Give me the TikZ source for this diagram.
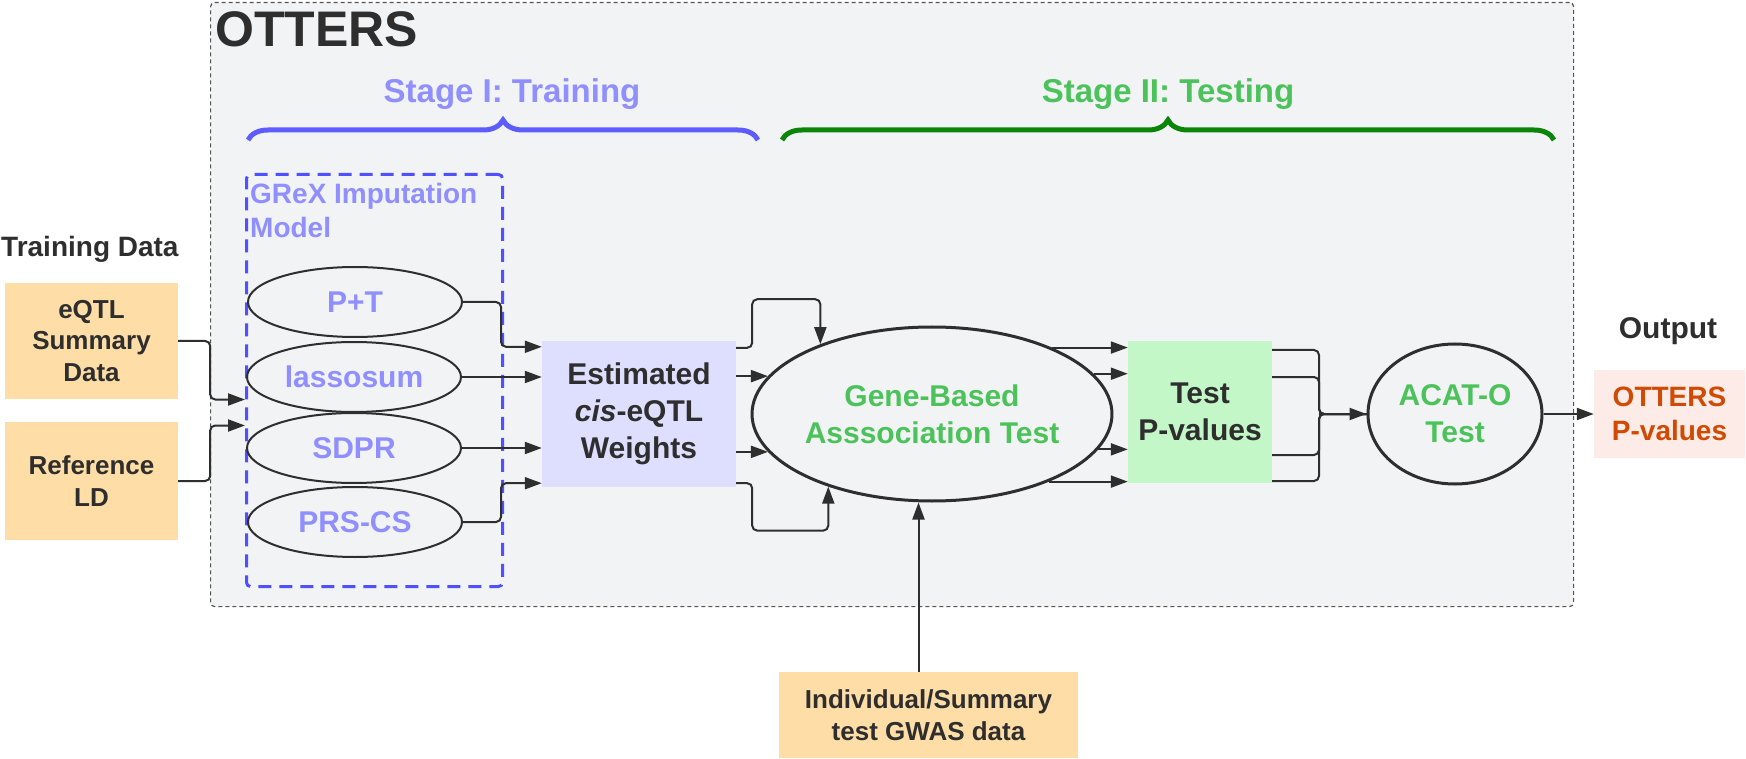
\documentclass[tikz,border=0pt]{standalone}
\usepackage{fontspec}
\setmainfont{Liberation Sans}
\usepackage{tikz}
\usetikzlibrary{shapes,arrows.meta,calc,positioning,decorations.pathreplacing}

\definecolor{bggray}{HTML}{F2F3F5}
\definecolor{edgegray}{HTML}{555555}
\definecolor{txtdark}{HTML}{2E2E2E}
\definecolor{purptxt}{HTML}{8F8FFF}
\definecolor{bluebrace}{HTML}{5C5CFF}
\definecolor{grexblue}{HTML}{5050FF}
\definecolor{greentxt}{HTML}{4CC25A}
\definecolor{greenbrace}{HTML}{0A850A}
\definecolor{orangefill}{HTML}{FEDDA6}
\definecolor{lavfill}{HTML}{DEDEFF}
\definecolor{pvfill}{HTML}{C3F7C8}
\definecolor{pinkfill}{HTML}{FDEBE8}
\definecolor{outtxt}{HTML}{D04A02}

\begin{document}
\begin{tikzpicture}[x=1pt, y=-1pt, inner sep=0pt,
        every node/.append style={text=txtdark},
        conn/.style={draw=txtdark, line width=2pt, rounded corners=5pt, -{Triangle[length=17pt,width=12pt]}},
        link/.style={draw=txtdark, line width=2pt, rounded corners=5pt}]
      \tikzstyle{databox} = [fill=orangefill, align=center, font=\bfseries\fontsize{26}{31.5}\selectfont]
      \tikzstyle{model} = [ellipse, draw=txtdark, line width=2pt, minimum width=214pt, minimum height=70pt,
                           text=purptxt, font=\bfseries\fontsize{30}{36}\selectfont]
      \tikzstyle{bigoval} = [ellipse, draw=txtdark, line width=3pt, align=center, text=greentxt,
                             font=\bfseries\fontsize{30}{37}\selectfont]
      \tikzstyle{midbox} = [align=center, font=\bfseries\fontsize{30}{37}\selectfont]
      \useasboundingbox (0,0) rectangle (1746,759);
      \node (otters) [draw=edgegray, fill=bggray, line width=1.2pt, dash pattern=on 4pt off 3pt, rounded corners=4pt,
                      minimum width=1363pt, minimum height=604pt, anchor=north west] at (210,2) {};
      \node (title) [anchor=base west, font=\bfseries\fontsize{50}{50}\selectfont] at (215,47) {OTTERS};
      \node (stagei) [anchor=base, text=purptxt, font=\bfseries\fontsize{33}{33}\selectfont] at (512,103) {Stage I: Training};
      \node (stageii) [anchor=base, text=greentxt, font=\bfseries\fontsize{33}{33}\selectfont] at (1168,103) {Stage II: Testing};
      \draw[decorate, decoration={brace, amplitude=20pt}, draw=bluebrace, line width=5pt] (248,140) -- (758,140);
      \draw[decorate, decoration={brace, amplitude=20pt}, draw=greenbrace, line width=5pt] (782,140) -- (1554,140);
      \node (grex) [draw=grexblue, line width=3pt, dash pattern=on 13pt off 8pt, rounded corners=4pt,
                    minimum width=256pt, minimum height=412pt, anchor=north west] at (245,173) {};
      \node (grexlbl) [anchor=west, align=left, text=purptxt, font=\bfseries\fontsize{28}{34}\selectfont] at (250,210) {GReX Imputation\\Model};
      \node (trainlbl) [anchor=base west, font=\bfseries\fontsize{28}{28}\selectfont] at (1,257) {Training Data};
      \node (eqtl) [databox, minimum width=173pt, minimum height=116pt] at (91.5,341) {eQTL\\Summary\\Data};
      \node (refld) [databox, minimum width=173pt, minimum height=118pt] at (91.5,481) {Reference\\LD};
      \node (pt) [model] at (355,302) {P+T};
      \node (las) [model] at (354,377) {lassosum};
      \node (sdpr) [model] at (354,448) {SDPR};
      \node (prs) [model] at (355,522) {PRS-CS};
      \node (est) [midbox, fill=lavfill, minimum width=194pt, minimum height=146pt] at (639,414) {Estimated\\\textit{cis}-eQTL\\Weights};
      \node (gene) [bigoval, minimum width=326pt, minimum height=174pt] at (932,414) {Gene-Based\\Asssociation Test};
      \node (test) [midbox, fill=pvfill, minimum width=144pt, minimum height=142pt] at (1200,412) {Test\\P-values};
      \node (acat) [bigoval, minimum width=174pt, minimum height=140pt] at (1455,414) {ACAT-O\\Test};
      \node (outlbl) [anchor=base, font=\bfseries\fontsize{30}{30}\selectfont] at (1668,338) {Output};
      \node (out) [fill=pinkfill, align=center, text=outtxt, minimum width=151pt, minimum height=88pt,
                   font=\bfseries\fontsize{28}{34}\selectfont] at (1669.5,414) {OTTERS\\P-values};
      \node (gwas) [databox, minimum width=299pt, minimum height=86pt] at (928.5,715) {Individual/Summary\\test GWAS data};
      \coordinate (merge) at (1319,414);
      \draw[conn] (eqtl.east) -- ++(32,0) |- ([yshift=-19pt]grex.west);
      \draw[conn] (refld.east) -- ++(32,0) |- ([yshift=-45pt]grex.west);
      \draw[conn] (pt.east) -- ++(38,0) |- ([yshift=-6pt]est.north west);
      \draw[conn] (las.east) -- (las.east -| est.west);
      \draw[conn] (sdpr.east) -- (sdpr.east -| est.west);
      \draw[conn] (prs.east) -- ++(38,0) |- ([yshift=4pt]est.south west);
      \draw[conn] ([yshift=-7pt]est.north east) -- ++(16,0) |- ($(gene.148)+(0,-45)$) -- (gene.148);
      \draw[conn] (est.east |- gene.167) -- (gene.167);
      \draw[conn] (est.east |- gene.193) -- (gene.193);
      \draw[conn] ([yshift=4pt]est.south east) -- ++(16,0) |- ($(gene.215)+(0,44)$) -- (gene.215);
      \draw[conn] (gene.29) -- (gene.29 -| test.west);
      \draw[conn] (gene.14) -- (gene.14 -| test.west);
      \draw[conn] (gene.-12) -- (gene.-12 -| test.west);
      \draw[conn] (gene.-30) -- (gene.-30 -| test.west);
      \draw[conn] ([xshift=-10pt]gwas.north) -- ([xshift=-10pt]gwas.north |- gene.south);
      \draw[link] ([yshift=62pt]test.east) -| (merge) -- (acat.west);
      \draw[link] ([yshift=35pt]test.east) -| (merge) -- (acat.west);
      \draw[link] ([yshift=-43pt]test.east) -| (merge) -- (acat.west);
      \draw[link] ([yshift=-69pt]test.east) -| (merge) -- (acat.west);
      \draw[conn] (merge) -- (acat.west);
      \draw[conn] (acat.east) -- (out.west);
\end{tikzpicture}
\end{document}
